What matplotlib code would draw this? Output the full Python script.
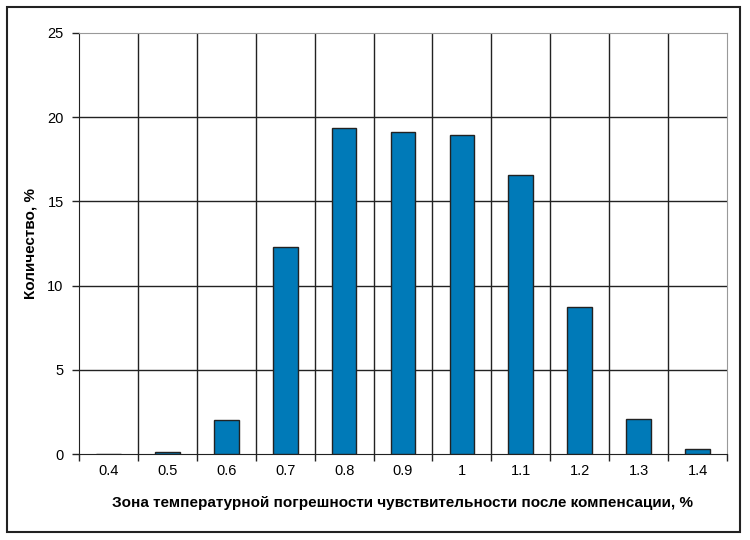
import numpy as np
import matplotlib
matplotlib.use('Agg')
import matplotlib.pyplot as plt
from matplotlib.patches import Rectangle

# Data
categories = ['0.4', '0.5', '0.6', '0.7', '0.8', '0.9', '1', '1.1', '1.2', '1.3', '1.4']
values = [0.0, 0.1, 2.0, 12.3, 19.35, 19.1, 18.95, 16.55, 8.75, 2.1, 0.3]
y_ticks = [0, 5, 10, 15, 20, 25]

plt.rcParams['font.family'] = ['Liberation Sans', 'DejaVu Sans']

fig = plt.figure(figsize=(7.5, 5.4), dpi=100)
ax = fig.add_axes([79 / 750, 86 / 540, 648 / 750, 421 / 540])

x = np.arange(len(categories))
ax.bar(x, values, width=0.42, color='#007ab8', edgecolor='#222222', linewidth=1.0, zorder=3)

ax.set_xlim(-0.5, len(categories) - 0.5)
ax.set_ylim(0, 25)
ax.set_yticks(y_ticks)
ax.set_yticklabels([str(t) for t in y_ticks], fontsize=10.5)

# category labels at centres, ticks and vertical grid at category boundaries
ax.set_xticks(x)
ax.set_xticklabels(categories, fontsize=10.5)
ax.tick_params(axis='x', length=0, pad=7)
ax.set_xticks(np.arange(-0.5, len(categories) + 0.5, 1), minor=True)
ax.tick_params(axis='x', which='minor', length=5, width=1, direction='out', color='#222222')
ax.tick_params(axis='y', length=5, width=1, direction='out', color='#222222', pad=6)

for b in np.arange(0.5, len(categories) - 0.5, 1):
    ax.axvline(b, color='#222222', linewidth=1.0, zorder=1)
for t in y_ticks[1:-1]:
    ax.axhline(t, color='#222222', linewidth=1.0, zorder=1)

ax.spines['left'].set_color('#222222')
ax.spines['bottom'].set_color('#222222')
ax.spines['top'].set_color('#999999')
ax.spines['right'].set_color('#999999')
ax.spines['right'].set_linestyle((0, (1, 1)))

ax.set_xlabel('Зона температурной погрешности чувствительности после компенсации, %',
              fontsize=11, fontweight='bold', labelpad=13)
ax.set_ylabel('Количество, %', fontsize=11, fontweight='bold', labelpad=7)

# outer frame around the whole chart
fig.patches.append(Rectangle((7 / 750, 1 - 532 / 540), 733 / 750, 525 / 540,
                             transform=fig.transFigure, fill=False,
                             edgecolor='#222222', linewidth=1.5))

fig.savefig('out.png', dpi=100)
